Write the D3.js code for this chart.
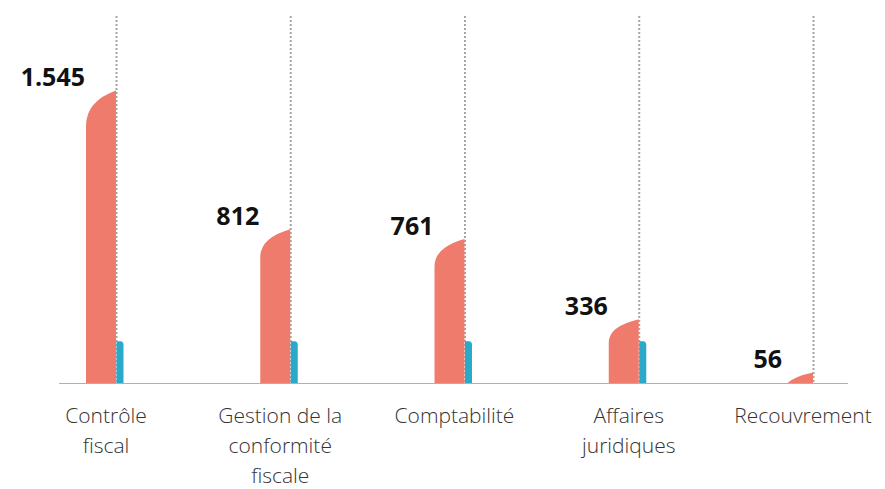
<!DOCTYPE html>
<head>
  <script src="https://d3js.org/d3.v7.min.js"></script>
  <meta charset='utf-8'>
  <style>
    body { margin: 0; background: #fff; }
    svg text { font-family: "Open Sans", sans-serif; }
  </style>
</head>
<body>
<div id="chart"></div>
<script>

// data
var categories = ["Contrôle fiscal", "Gestion de la conformité fiscale", "Comptabilité", "Affaires juridiques", "Recouvrement"];
var labelLines = [["Contrôle", "fiscal"], ["Gestion de la", "conformité", "fiscale"], ["Comptabilité"], ["Affaires", "juridiques"], ["Recouvrement"]];
var mainValues = [1545, 812, 761, 336, 56];
var valueLabels = ["1.545", "812", "761", "336", "56"];
var secondValues = [220, 220, 220, 220, 0];

var width = 885, height = 489;
var base = 383;

var svg = d3.select("#chart").append("svg")
    .attr("width", width)
    .attr("height", height);

var x = d3.scalePoint()
  .domain(categories)
  .range([116, 813]);

var y = d3.scaleLinear()
  .domain([0, 1600])
  .range([base, 80]);

var barW = 30, blueW = 7;

svg.append("clipPath").attr("id", "above")
  .append("rect").attr("x", 0).attr("y", 0).attr("width", width).attr("height", base);

// dotted guide lines
svg.selectAll(".guide")
  .data(categories)
  .enter().append("line")
    .attr("x1", function(d) { return x(d) + 0.5 })
    .attr("x2", function(d) { return x(d) + 0.5 })
    .attr("y1", 16)
    .attr("y2", base)
    .attr("stroke", "#a6a6a6")
    .attr("stroke-width", 2)
    .attr("stroke-dasharray", "2,2");

var g = svg.append("g").attr("clip-path", "url(#above)");

// main bars, curved top-left
g.selectAll(".main")
  .data(categories)
  .enter().append("path")
    .attr("fill", "#ef7b6c")
    .attr("d", function(d, i) {
      var r = x(d), l = r - barW, t = y(mainValues[i]);
      var c = 20 + mainValues[i] / 100;
      return "M" + l + "," + (base + 40) +
        "L" + l + "," + (t + c) +
        "Q" + l + "," + (t + c * 0.3) + " " + r + "," + t +
        "L" + r + "," + (base + 40) + "Z";
    });

// small blue bars
g.selectAll(".second")
  .data(categories.filter(function(d, i) { return secondValues[i] > 0 }))
  .enter().append("path")
    .attr("fill", "#2aa9c9")
    .attr("d", function(d) {
      var i = categories.indexOf(d);
      var l = x(d) + 0.5, r = l + blueW, t = y(secondValues[i]);
      return "M" + l + "," + base + "L" + l + "," + t +
        "L" + (r - 3) + "," + t +
        "Q" + r + "," + t + " " + r + "," + (t + 4) +
        "L" + r + "," + base + "Z";
    });

// baseline
svg.append("line")
  .attr("x1", 59).attr("x2", 848)
  .attr("y1", base + 0.5).attr("y2", base + 0.5)
  .attr("stroke", "#b0b0b0")
  .attr("stroke-width", 1.2);

// value labels
svg.selectAll(".val")
  .data(categories)
  .enter().append("text")
    .attr("x", function(d) { return x(d) - barW - 1 })
    .attr("y", function(d, i) { return y(mainValues[i]) - 4 })
    .attr("text-anchor", "end")
    .attr("font-family", "Lato, sans-serif")
    .attr("font-size", 25)
    .attr("font-weight", "bold")
    .attr("fill", "#111")
    .text(function(d, i) { return valueLabels[i] });

// category labels
var cat = svg.selectAll(".cat")
  .data(categories)
  .enter().append("text")
    .attr("text-anchor", "middle")
    .attr("font-size", 21)
    .attr("font-weight", 300)
    .attr("fill", "#333")
    .attr("y", 423);

cat.selectAll("tspan")
  .data(function(d, i) { return labelLines[i].map(function(s) { return {s: s, c: d} }) })
  .enter().append("tspan")
    .attr("x", function(o) { return x(o.c) - 10 })
    .attr("dy", function(o, j) { return j ? 30 : 0 })
    .text(function(o) { return o.s });

</script>
</body>
